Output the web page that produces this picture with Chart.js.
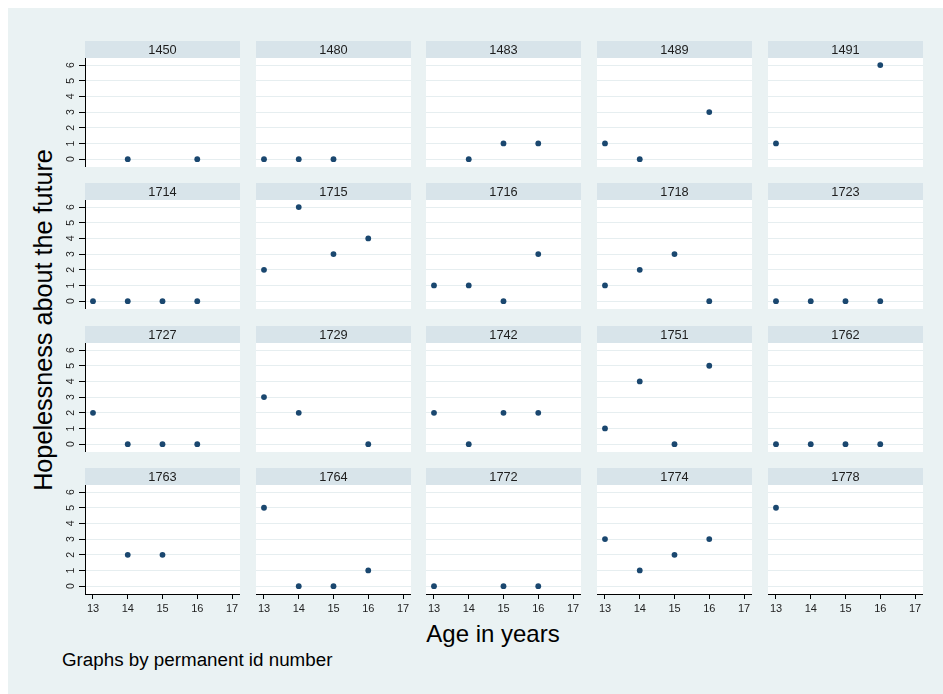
<!DOCTYPE html>
<html>
<head>
<meta charset="utf-8">
<script src="https://cdn.jsdelivr.net/npm/chart.js@4/dist/chart.umd.min.js"></script>
<style>
  html, body { margin: 0; padding: 0; background: #fff; }
  #page { position: relative; width: 943px; height: 694px; overflow: hidden; background: #fff;
          font-family: "Liberation Sans", Arial, sans-serif; }
  #region { position: absolute; left: 8px; top: 8px; right: 0; bottom: 0; background: #eaf2f3; }
  canvas { position: absolute; }
  .txt { position: absolute; white-space: nowrap; color: #000; line-height: 1; }
  #ytitle { font-size: 25.2px; left: 44px; top: 319.5px; transform: translate(-50%, -50%) rotate(-90deg); }
  #xtitle { font-size: 24px; left: 493px; top: 622px; transform: translateX(-50%); }
  #note { font-size: 18.8px; left: 62px; top: 651px; }
</style>
</head>
<body>
<div id="page">
  <div id="region"></div>
  <div class="txt" id="ytitle">Hopelessness about the future</div>
  <div class="txt" id="xtitle">Age in years</div>
  <div class="txt" id="note">Graphs by permanent id number</div>
</div>
<script>
// One panel per permanent id, laid out 5 per row
const ids = [1450, 1480, 1483, 1489, 1491,
             1714, 1715, 1716, 1718, 1723,
             1727, 1729, 1742, 1751, 1762,
             1763, 1764, 1772, 1774, 1778];

// Age in years at each wave
const ages = [13, 14, 15, 16];

// Hopelessness score per id at ages 13..16 (null = not observed)
const hopelessness = [
  [null, 0, null, 0],
  [0, 0, 0, null],
  [null, 0, 1, 1],
  [1, 0, null, 3],
  [1, null, null, 6],
  [0, 0, 0, 0],
  [2, 6, 3, 4],
  [1, 1, 0, 3],
  [1, 2, 3, 0],
  [0, 0, 0, 0],
  [2, 0, 0, 0],
  [3, 2, null, 0],
  [2, 0, 2, 2],
  [1, 4, 0, 5],
  [0, 0, 0, 0],
  [null, 2, 2, null],
  [5, 0, 0, 1],
  [0, null, 0, 0],
  [3, 1, 2, 3],
  [5, null, null, null]
];

const xTicks = [13, 14, 15, 16, 17];
const yTicks = [0, 1, 2, 3, 4, 5, 6];

// ---- layout of the grid of panels ----
const NCOL = 5, NROW = 4;
const colLeft = [85, 256, 426, 597, 768];
const rowTop = [41, 183, 326, 468];
const PLOT_W = 155, PLOT_H = 109, STRIP_H = 17;
const Y_AXIS_W = 35, X_AXIS_H = 26;

const FONT = '"Liberation Sans", Arial, sans-serif';
const STRIP = '#d8e4ea';
const GRID = '#e6eef0';
const MARKER = '#1a476f';

// Draws the white plot region and the titled strip above it
const stripPlugin = {
  id: 'strip',
  beforeDraw(chart, args, opts) {
    const { ctx, chartArea: a } = chart;
    ctx.save();
    ctx.fillStyle = '#ffffff';
    ctx.fillRect(a.left, a.top, a.right - a.left, a.bottom - a.top);
    ctx.fillStyle = STRIP;
    ctx.fillRect(a.left, a.top - STRIP_H, a.right - a.left, STRIP_H);
    ctx.fillStyle = '#1e1e1e';
    ctx.font = '12.8px ' + FONT;
    ctx.textAlign = 'center';
    ctx.textBaseline = 'middle';
    ctx.fillText(opts.label, (a.left + a.right) / 2, a.top - STRIP_H / 2 + 0.5);
    ctx.restore();
  }
};

const page = document.getElementById('page');

ids.forEach((id, k) => {
  const r = Math.floor(k / NCOL), c = k % NCOL;
  const leftAxis = c === 0;
  const bottomAxis = r === NROW - 1;
  const padL = leftAxis ? Y_AXIS_W : 0;
  const padB = bottomAxis ? X_AXIS_H : 0;

  const cv = document.createElement('canvas');
  const w = PLOT_W + padL, h = STRIP_H + PLOT_H + padB;
  cv.width = w; cv.height = h;
  cv.style.width = w + 'px'; cv.style.height = h + 'px';
  cv.style.left = (colLeft[c] - padL) + 'px';
  cv.style.top = rowTop[r] + 'px';
  page.appendChild(cv);

  const points = ages
    .map((a, i) => ({ x: a, y: hopelessness[k][i] }))
    .filter(p => p.y !== null);

  new Chart(cv, {
    type: 'scatter',
    data: {
      datasets: [{
        data: points,
        backgroundColor: MARKER,
        borderColor: MARKER,
        borderWidth: 0,
        pointRadius: 2.9,
        pointHoverRadius: 2.9
      }]
    },
    options: {
      responsive: false,
      animation: false,
      devicePixelRatio: 1,
      events: [],
      layout: { padding: { top: STRIP_H, left: 0, right: 0, bottom: 0 }, autoPadding: false },
      plugins: {
        legend: { display: false },
        tooltip: { enabled: false },
        strip: { label: String(id) }
      },
      scales: {
        x: {
          type: 'linear',
          min: 12.77, max: 17.23,
          display: bottomAxis,
          afterBuildTicks: s => { s.ticks = xTicks.map(v => ({ value: v })); },
          afterFit: s => {
            s.paddingLeft = 0; s.paddingRight = 0;
            if (bottomAxis) s.height = X_AXIS_H;
          },
          grid: { drawOnChartArea: false, drawTicks: true, tickLength: 5, tickColor: '#000', tickWidth: 1 },
          border: { display: true, color: '#000', width: 1 },
          ticks: { font: { family: FONT, size: 11 }, color: '#1e1e1e', padding: 3,
                   maxRotation: 0, minRotation: 0, autoSkip: false }
        },
        y: {
          type: 'linear',
          min: -0.5, max: 6.45,
          afterBuildTicks: s => { s.ticks = yTicks.map(v => ({ value: v })); },
          afterFit: s => {
            s.paddingTop = 0; s.paddingBottom = 0;
            s.width = leftAxis ? Y_AXIS_W : 0;
          },
          grid: { color: GRID, lineWidth: 1, drawTicks: leftAxis, tickLength: 6,
                  tickColor: '#000', tickWidth: 1 },
          border: { display: leftAxis, color: '#000', width: 1 },
          ticks: { display: leftAxis, minRotation: 90, maxRotation: 90, crossAlign: 'center',
                   font: { family: FONT, size: 10.5 }, color: '#1e1e1e', padding: 5 }
        }
      }
    },
    plugins: [stripPlugin]
  });
});
</script>
</body>
</html>
